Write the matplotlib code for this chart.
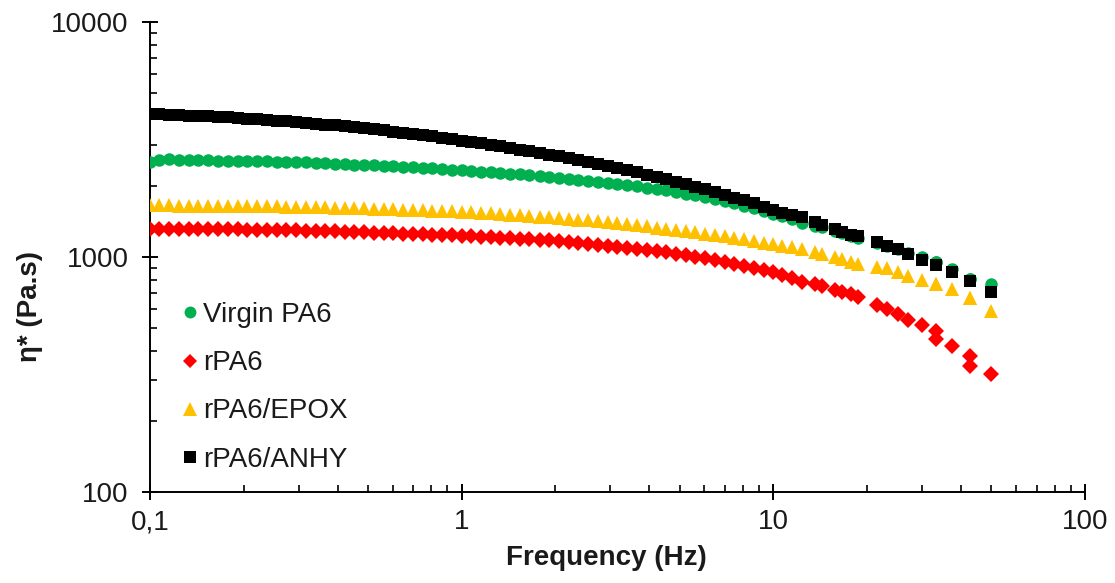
import matplotlib
matplotlib.use("Agg")
import matplotlib.pyplot as plt
from matplotlib.ticker import FixedLocator, FixedFormatter, LogLocator, NullFormatter

plt.rcParams['font.family'] = ['Liberation Sans', 'DejaVu Sans']

freq = [0.100, 0.107, 0.115, 0.124, 0.133, 0.143, 0.154, 0.165, 0.178, 0.191,
        0.205, 0.221, 0.237, 0.255, 0.274, 0.294, 0.316, 0.340, 0.365, 0.392,
        0.422, 0.453, 0.487, 0.523, 0.562, 0.604, 0.649, 0.698, 0.750, 0.806,
        0.866, 0.931,
        1.00, 1.07, 1.15, 1.24, 1.33, 1.43, 1.54, 1.65, 1.78, 1.91,
        2.05, 2.21, 2.37, 2.55, 2.74, 2.94, 3.16, 3.40, 3.65, 3.92,
        4.22, 4.53, 4.87, 5.23, 5.62, 6.04, 6.49, 6.98, 7.50, 8.06,
        8.66, 9.31,
        10.0, 10.7, 11.5, 12.4, 13.6, 14.3, 15.8, 16.6, 17.7, 18.7,
        21.5, 23.1, 25.1, 27.0, 30.0, 33.2, 33.2, 37.4, 42.8, 42.8, 49.9]

virgin_pa6 = [2540, 2590, 2600, 2590, 2580, 2580, 2575, 2570, 2570, 2565,
              2560, 2555, 2550, 2545, 2540, 2530, 2525, 2515, 2505, 2495,
              2485, 2475, 2465, 2455, 2445, 2435, 2420, 2410, 2395, 2385,
              2370, 2355,
              2340, 2325, 2310, 2295, 2280, 2265, 2250, 2230, 2215, 2195,
              2175, 2155, 2135, 2115, 2095, 2070, 2050, 2025, 2000, 1975,
              1950, 1920, 1895, 1860, 1830, 1795, 1760, 1725, 1690, 1650,
              1610, 1570,
              1530, 1490, 1450, 1400, 1360, 1340, 1290, 1260, 1230, 1200,
              1150, 1110, 1080, 1045, 1000, 950, 950, 890, 810, 810, 765]

rpa6 = [1322, 1322, 1321, 1320, 1319, 1318, 1317, 1315, 1313, 1311,
        1309, 1307, 1305, 1302, 1300, 1297, 1294, 1291, 1288, 1285,
        1282, 1278, 1274, 1270, 1266, 1262, 1258, 1254, 1250, 1246,
        1241, 1237,
        1232, 1227, 1222, 1216, 1210, 1204, 1197, 1190, 1183, 1176,
        1168, 1160, 1150, 1140, 1129, 1118, 1107, 1096, 1084, 1072,
        1060, 1046, 1032, 1017, 1002, 986, 969, 952, 934, 916,
        898, 880,
        862, 840, 815, 783, 767, 752, 724, 710, 696, 675,
        625, 601, 572, 540, 514, 484, 448, 418, 379, 344, 318]

rpa6_epox = [1660, 1660, 1660, 1655, 1655, 1655, 1655, 1650, 1650, 1650,
             1650, 1648, 1645, 1643, 1640, 1637, 1633, 1630, 1626, 1622,
             1618, 1614, 1610, 1605, 1600, 1595, 1590, 1585, 1580, 1575,
             1568, 1562,
             1555, 1548, 1540, 1532, 1524, 1515, 1506, 1497, 1487, 1477,
             1466, 1455, 1443, 1431, 1418, 1405, 1392, 1378, 1364, 1350,
             1335, 1320, 1305, 1290, 1274, 1258, 1241, 1224, 1206, 1188,
             1170, 1152,
             1134, 1115, 1098, 1082, 1050, 1030, 1000, 981, 952, 934,
             907, 900, 863, 830, 798, 768, 768, 731, 669, 669, 589]

rpa6_anhy = [4060, 4050, 4040, 4020, 4000, 3985, 3965, 3945, 3925, 3905,
             3880, 3855, 3830, 3805, 3780, 3750, 3720, 3690, 3660, 3630,
             3595, 3560, 3525, 3490, 3455, 3420, 3380, 3340, 3300, 3260,
             3220, 3180,
             3130, 3090, 3045, 3000, 2955, 2910, 2865, 2820, 2775, 2730,
             2680, 2630, 2580, 2530, 2480, 2430, 2385, 2335, 2290, 2240,
             2190, 2140, 2090, 2040, 1990, 1940, 1890, 1840, 1790, 1740,
             1690, 1640,
             1580, 1545, 1510, 1480, 1409, 1368, 1316, 1277, 1240, 1228,
             1158, 1114, 1082, 1030, 971, 925, 925, 863, 790, 790, 710]

series_labels = ["Virgin PA6", "rPA6", "rPA6/EPOX", "rPA6/ANHY"]
x_ticks = [0.1, 1, 10, 100]
x_tick_labels = ["0,1", "1", "10", "100"]
y_ticks = [100, 1000, 10000]
y_tick_labels = ["100", "1000", "10000"]

W, H = 1115, 583
fig = plt.figure(figsize=(W / 100, H / 100), dpi=100)
ax = fig.add_axes([150 / W, 1 - 492 / H, (1085 - 150) / W, (492 - 22) / H])

ax.plot(freq, virgin_pa6, 'o', color='#00B050', ms=9, mew=0, label=series_labels[0], zorder=3)
ax.plot(freq, rpa6, 'D', color='#FF0000', ms=7.8, mew=0, label=series_labels[1], zorder=3)
ax.plot(freq, rpa6_epox, '^', color='#FFC000', ms=10.5, mew=0, label=series_labels[2], zorder=3)
ax.plot(freq, rpa6_anhy, 's', color='#000000', ms=8.8, mew=0, label=series_labels[3], zorder=4)

ax.set_xscale('log')
ax.set_yscale('log')
ax.set_xlim(0.1, 100)
ax.set_ylim(100, 10000)

ax.xaxis.set_major_locator(FixedLocator(x_ticks))
ax.xaxis.set_major_formatter(FixedFormatter(x_tick_labels))
ax.yaxis.set_major_locator(FixedLocator(y_ticks))
ax.yaxis.set_major_formatter(FixedFormatter(y_tick_labels))
ax.xaxis.set_minor_locator(LogLocator(base=10, subs=range(2, 10)))
ax.yaxis.set_minor_locator(LogLocator(base=10, subs=range(2, 10)))
ax.xaxis.set_minor_formatter(NullFormatter())
ax.yaxis.set_minor_formatter(NullFormatter())

for s in ['top', 'right']:
    ax.spines[s].set_visible(False)
for s in ['left', 'bottom']:
    ax.spines[s].set_linewidth(1.4)
    ax.spines[s].set_color('#000000')

txt_color = '#1a1a1a'
ax.tick_params(which='major', direction='inout', length=11, width=1.4,
               labelsize=20, labelcolor=txt_color)
ax.tick_params(axis='x', which='major', pad=7)
ax.tick_params(axis='y', which='major', pad=10)
ax.tick_params(which='minor', direction='in', length=5, width=1.2)

ax.set_xlabel("Frequency (Hz)", fontsize=20, fontweight='bold', color=txt_color)
ax.xaxis.set_label_coords((606 - 150) / (1085 - 150), -(545 - 492) / (492 - 22))
fig.text(30 / W, 1 - 307 / H, "η* (Pa.s)", rotation=90, fontsize=20, fontweight='bold',
         color=txt_color, ha='center', va='center')

leg = ax.legend(loc='upper left', bbox_to_anchor=((184 - 150) / 935, (492 - 302) / 470),
                frameon=False, fontsize=20, handlelength=0.45, handletextpad=0.25,
                borderpad=0, borderaxespad=0, labelspacing=0.8, markerscale=0.95)
for t in leg.get_texts():
    t.set_color(txt_color)

fig.savefig("out.png", dpi=100)
